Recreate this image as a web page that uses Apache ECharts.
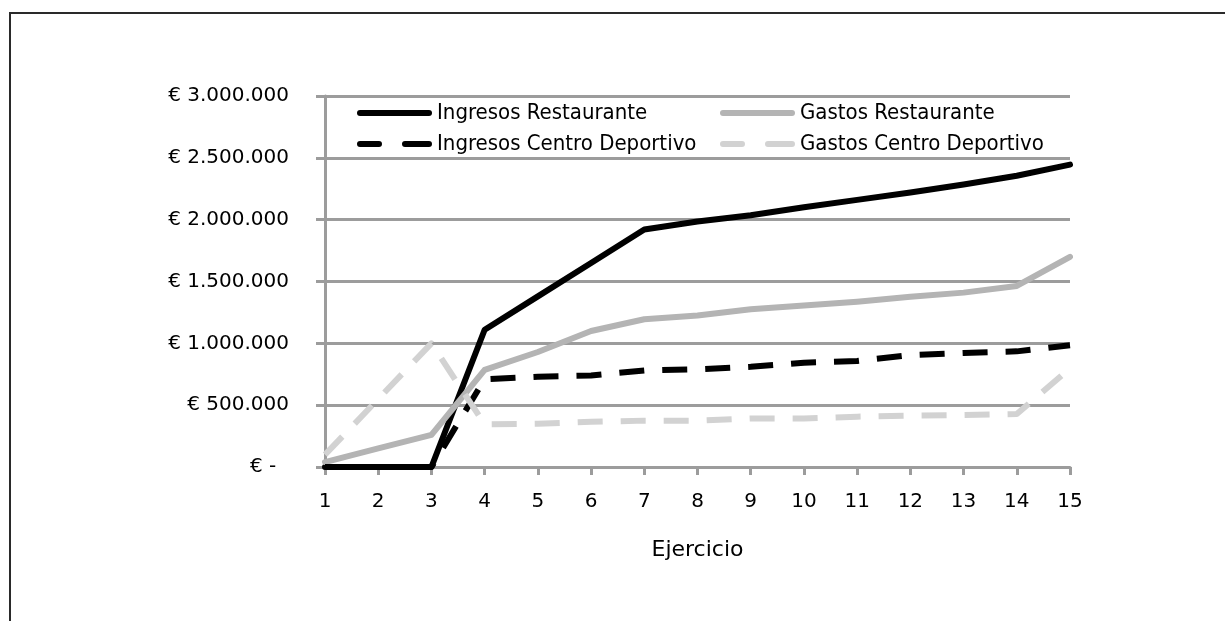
<!DOCTYPE html>
<html>
<head>
<meta charset="utf-8">
<script src="https://cdn.jsdelivr.net/npm/echarts@6/dist/echarts.min.js"></script>
<style>
  html, body { margin: 0; padding: 0; background: #fff; }
  #chart { width: 1225px; height: 621px; }
</style>
</head>
<body>
<div id="chart"></div>
<script>
// Ejercicios (years of operation)
const ejercicios = ['1','2','3','4','5','6','7','8','9','10','11','12','13','14','15'];

// Income and costs per year, in euros
const ingresosRestaurante = [0, 0, 0, 1110000, 1380000, 1650000, 1920000, 1985000, 2035000, 2100000, 2160000, 2220000, 2285000, 2355000, 2445000];
const gastosRestaurante   = [40000, 150000, 260000, 785000, 930000, 1100000, 1195000, 1225000, 1275000, 1305000, 1337000, 1377000, 1410000, 1464000, 1700000];
const ingresosCentro      = [0, 0, 0, 710000, 730000, 740000, 780000, 790000, 810000, 843000, 857000, 905000, 922000, 935000, 985000];
const gastosCentro        = [100000, 550000, 1000000, 345000, 350000, 365000, 375000, 375000, 392000, 392000, 407000, 415000, 420000, 428000, 798000];

const seriesNames = ['Ingresos Restaurante', 'Gastos Restaurante', 'Ingresos Centro Deportivo', 'Gastos Centro Deportivo'];

const gridColor = '#9c9c9c';
const labelFont = 'DejaVu Sans';

// Legend keys: a solid bar and a two-dash bar
const solidIcon  = 'path://M3,0H72A3,3 0 0 1 72,6H3A3,3 0 0 1 3,0Z';
const dashedIcon = 'path://M3,0H22A3,3 0 0 1 22,6H3A3,3 0 0 1 3,0Z M48,0H72A3,3 0 0 1 72,6H48A3,3 0 0 1 48,0Z';

function euro(v) {
  if (v === 0) return '€ -  ';
  return '€ ' + String(v).replace(/\B(?=(\d{3})+(?!\d))/g, '.');
}

function lineSeries(name, data, color, dashed) {
  return {
    name: name,
    type: 'line',
    data: data,
    symbol: 'none',
    animation: false,
    lineStyle: {
      color: color,
      width: 6,
      type: dashed ? [25, 18] : 'solid',
      cap: dashed ? 'butt' : 'round',
      join: 'round'
    },
    itemStyle: { color: color }
  };
}

const legendText = { fontFamily: 'DejaVu Sans Condensed', fontSize: 22, color: '#000' };

function legendBlock(left, names) {
  return {
    orient: 'vertical',
    left: left, top: 102,
    padding: 0,
    itemWidth: 75, itemHeight: 6, itemGap: 9,
    data: [
      { name: names[0], icon: solidIcon },
      { name: names[1], icon: dashedIcon }
    ],
    textStyle: legendText
  };
}

const chart = echarts.init(document.getElementById('chart'), null, { renderer: 'canvas' });
chart.setOption({
  backgroundColor: '#fff',
  animation: false,
  graphic: [{
    type: 'rect',
    shape: { x: 10, y: 13, width: 1400, height: 800 },
    style: { fill: 'none', stroke: '#2a2a2a', lineWidth: 2 },
    silent: true
  }],
  grid: { left: 325, right: 155, top: 96, bottom: 154 },
  legend: [
    legendBlock(357, [seriesNames[0], seriesNames[2]]),
    legendBlock(720, [seriesNames[1], seriesNames[3]])
  ],
  xAxis: {
    type: 'category',
    data: ejercicios,
    boundaryGap: false,
    name: 'Ejercicio',
    nameLocation: 'middle',
    nameGap: 72,
    nameTextStyle: { fontFamily: labelFont, fontSize: 22, color: '#000' },
    axisLine: { lineStyle: { color: gridColor, width: 3 } },
    axisTick: { show: true, length: 8, lineStyle: { color: gridColor, width: 3 } },
    axisLabel: { margin: 25, fontFamily: labelFont, fontSize: 20, color: '#000' },
    splitLine: { show: false }
  },
  yAxis: {
    type: 'value',
    min: 0, max: 3000000, interval: 500000,
    axisLine: { show: true, lineStyle: { color: gridColor, width: 3 } },
    axisTick: { show: true, length: 9, lineStyle: { color: gridColor, width: 3 } },
    axisLabel: { margin: 36, fontFamily: labelFont, fontSize: 20, color: '#000', formatter: euro },
    splitLine: { show: true, lineStyle: { color: gridColor, width: 3 } }
  },
  series: [
    lineSeries(seriesNames[0], ingresosRestaurante, '#000000', false),
    lineSeries(seriesNames[1], gastosRestaurante, '#b4b4b4', false),
    lineSeries(seriesNames[2], ingresosCentro, '#000000', true),
    lineSeries(seriesNames[3], gastosCentro, '#d2d2d2', true)
  ]
});
</script>
</body>
</html>
